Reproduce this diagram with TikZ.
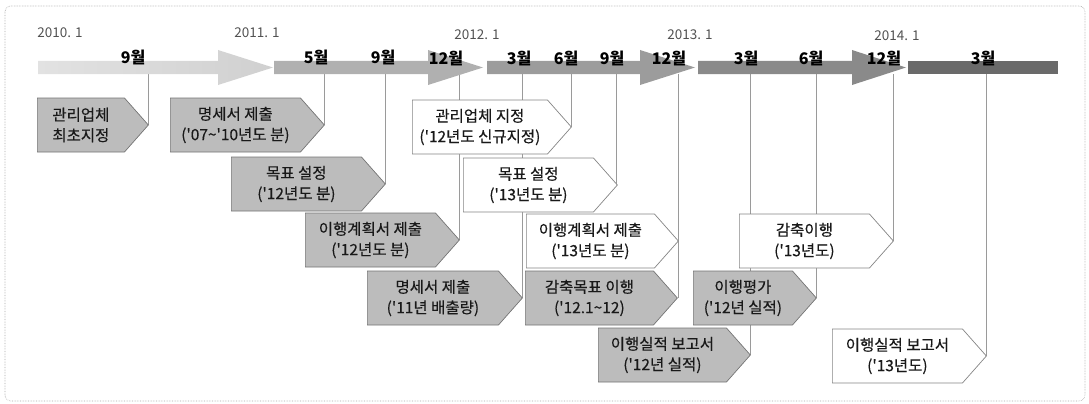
\documentclass[tikz,border=0pt]{standalone}
\usepackage{fontspec}
\setmainfont{Noto Sans CJK KR}
\newfontfamily\boxfont[FakeBold=0.3]{Noto Sans CJK KR}
\usetikzlibrary{shapes.symbols,backgrounds}
\definecolor{boxgray}{HTML}{BCBCBC}
\definecolor{boxline}{HTML}{747474}
\definecolor{wline}{HTML}{858585}
\definecolor{linegray}{HTML}{9A9A9A}
\definecolor{segA}{HTML}{E2E2E2}
\definecolor{segAr}{HTML}{D0D0D0}
\definecolor{segB}{HTML}{B0B0B0}
\definecolor{segC}{HTML}{9C9C9C}
\definecolor{segD}{HTML}{8A8A8A}
\definecolor{segE}{HTML}{6A6A6A}
\begin{document}
\begin{tikzpicture}[x=1pt,y=-1pt,
  box/.style={signal, signal to=east, signal pointer angle=97, line width=0.7pt,
    minimum height=54, inner sep=0pt, align=center, anchor=west,
    font=\boxfont\fontsize{15.5}{20.5}\selectfont, text=black!90},
  gbox/.style={box, draw=boxline, fill=boxgray},
  wbox/.style={box, draw=wline, fill=white},
  mon/.style={font=\bfseries\fontsize{16}{16}\selectfont, inner sep=0pt},
  yr/.style={font=\fontsize{13.5}{13.5}\selectfont, text=black!68, inner sep=0pt},
  conn/.style={draw=linegray, line width=0.5pt},
  frame/.style={draw=black!35, densely dotted, line width=0.6pt, rounded corners=6pt}]
\useasboundingbox (0,0) rectangle (1089,404);
\draw[frame] (5,6) rectangle (1085,401);
% timeline band
\shade[left color=segA, right color=segAr] (38,61) -- (218,61) -- (218,50) -- (273,67.5) -- (218,85) -- (218,74) -- (38,74) -- cycle;
\fill[segB] (274,61) -- (428,61) -- (428,50) -- (483,67.5) -- (428,85) -- (428,74) -- (274,74) -- cycle;
\fill[segC] (487,61) -- (640,61) -- (640,50) -- (695,67.5) -- (640,85) -- (640,74) -- (487,74) -- cycle;
\fill[segD] (698,61) -- (852,61) -- (852,50) -- (906,67.5) -- (852,85) -- (852,74) -- (698,74) -- cycle;
\fill[segE] (908,61) rectangle (1058,74);
% years
\node[yr] (y10) at (60,33) {2010. 1};
\node[yr] (y11) at (257,33) {2011. 1};
\node[yr] (y12) at (477,35) {2012. 1};
\node[yr] (y13) at (690,35) {2013. 1};
\node[yr] (y14) at (897,36) {2014. 1};
% months
\node[mon] (m1) at (133,57) {9월};
\node[mon] (m2) at (316,57) {5월};
\node[mon] (m3) at (383,57) {9월};
\node[mon] (m4) at (446,58) {12월};
\node[mon] (m5) at (519,58) {3월};
\node[mon] (m6) at (566,58) {6월};
\node[mon] (m7) at (612,58) {9월};
\node[mon] (m8) at (669,58) {12월};
\node[mon] (m9) at (746,58) {3월};
\node[mon] (m10) at (811,58) {6월};
\node[mon] (m11) at (884,58) {12월};
\node[mon] (m12) at (983,58) {3월};
% line tops
\coordinate (c1) at (148,74);
\coordinate (c2) at (324,74);
\coordinate (c3) at (385,74);
\coordinate (c4) at (459,74);
\coordinate (c5) at (522,74);
\coordinate (c6) at (571,74);
\coordinate (c7) at (616,74);
\coordinate (c8) at (678,74);
\coordinate (c9) at (750,74);
\coordinate (c10) at (816,74);
\coordinate (c11) at (893,74);
\coordinate (c12) at (986,74);
% boxes
\node[gbox, minimum width=111] (b1) at (37,125) {관리업체\\최초지정};
\node[gbox, minimum width=154] (b2) at (170,125) {명세서 제출\\('07\textasciitilde'10년도 분)};
\node[gbox, minimum width=154] (b3) at (231,184) {목표 설정\\('12년도 분)};
\node[gbox, minimum width=154] (b4) at (305,240) {이행계획서 제출\\('12년도 분)};
\node[gbox, minimum width=155] (b5) at (367,298) {명세서 제출\\('11년 배출량)};
\node[wbox, minimum width=159] (b6) at (412,127) {관리업체 지정\\('12년도 신규지정)};
\node[wbox, minimum width=154] (b7) at (463,185) {목표 설정\\('13년도 분)};
\node[wbox, minimum width=152] (b8) at (526,241) {이행계획서 제출\\('13년도 분)};
\node[gbox, minimum width=152] (b9) at (525,298) {감축목표 이행\\('12.1\textasciitilde12)};
\node[gbox, minimum width=152] (b10) at (598,355) {이행실적 보고서\\('12년 실적)};
\node[gbox, minimum width=123] (b11) at (693,298) {이행평가\\('12년 실적)};
\node[wbox, minimum width=154] (b12) at (739,241) {감축이행\\('13년도)};
\node[wbox, minimum width=154] (b13) at (832,356) {이행실적 보고서\\('13년도)};
% connectors
\begin{pgfonlayer}{background}
\draw[conn] (c1) -- (c1 |- b1.east);
\draw[conn] (c2) -- (c2 |- b2.east);
\draw[conn] (c3) -- (c3 |- b3.east);
\draw[conn] (c4) -- (c4 |- b4.east);
\draw[conn] (c5) -- (c5 |- b5.east);
\draw[conn] (c6) -- (c6 |- b6.east);
\draw[conn] (c7) -- (c7 |- b7.east);
\draw[conn] (c8) -- (c8 |- b9.east);
\draw[conn] (c9) -- (c9 |- b10.east);
\draw[conn] (c10) -- (c10 |- b11.east);
\draw[conn] (c11) -- (c11 |- b12.east);
\draw[conn] (c12) -- (c12 |- b13.east);
\end{pgfonlayer}
\end{tikzpicture}
\end{document}
